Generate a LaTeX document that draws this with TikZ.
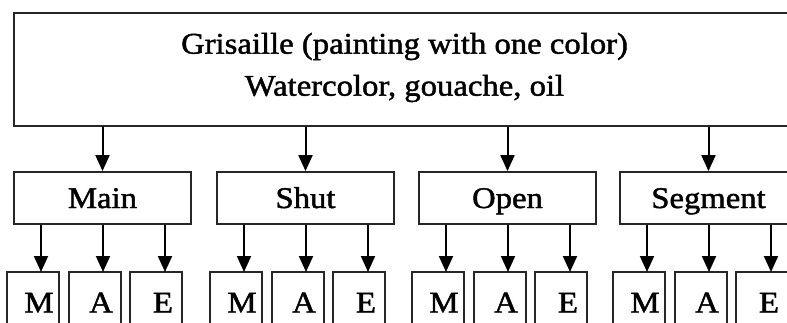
\documentclass[tikz,border=0pt]{standalone}
\usepackage{fontspec}
\setmainfont{Liberation Serif}[FakeStretch=1.09, FakeBold=1.5]
\usetikzlibrary{arrows.meta}
\tikzset{
  x=1pt, y=-1pt,
  box/.style={draw=black!85, line width=1.8pt, inner sep=0pt},
  conn/.style={draw=black, line width=2pt, -{Triangle[width=14pt,length=16pt]}},
  lbl/.style={inner sep=0pt, text height=20pt, text depth=0pt,
              font=\fontsize{30}{42}\selectfont},
}
\begin{document}
\begin{tikzpicture}
\useasboundingbox (0,0) rectangle (787,323);
% top box
\node[box, minimum width=781pt, minimum height=113pt] (top) at (404.5,69.5) {};
\node[align=center, inner sep=0pt, font=\fontsize{30}{42}\selectfont] (toptext)
  at (404.5,67.5) {Grisaille (painting with one color)\\Watercolor, gouache, oil};
% four groups, each with three leaves
\foreach \g/\L/\t in {g1/14/Main, g2/217/Shut, g3/419/Open, g4/620/Segment}{
  \node[box, minimum width=177pt, minimum height=52pt, lbl] (\g) at (\L+88.5,198) {\t};
  \draw[conn] (top.south -| \g) -- (\g.north);
  \foreach \k/\c/\a/\s in {m/19/27/M, a/81/89/A, e/142/151/E}{
    \node[box, minimum width=52pt, minimum height=61pt] (\g\k) at (\L+\c,302.5) {};
    \node[lbl] (\g\k t) at (\L+\a-2,302.5) {\s};
    \coordinate (\g\k in) at (\L+\a,272);
    \draw[conn] (\g.south -| \g\k in) -- (\g\k in);
  }
}
\end{tikzpicture}
\end{document}
